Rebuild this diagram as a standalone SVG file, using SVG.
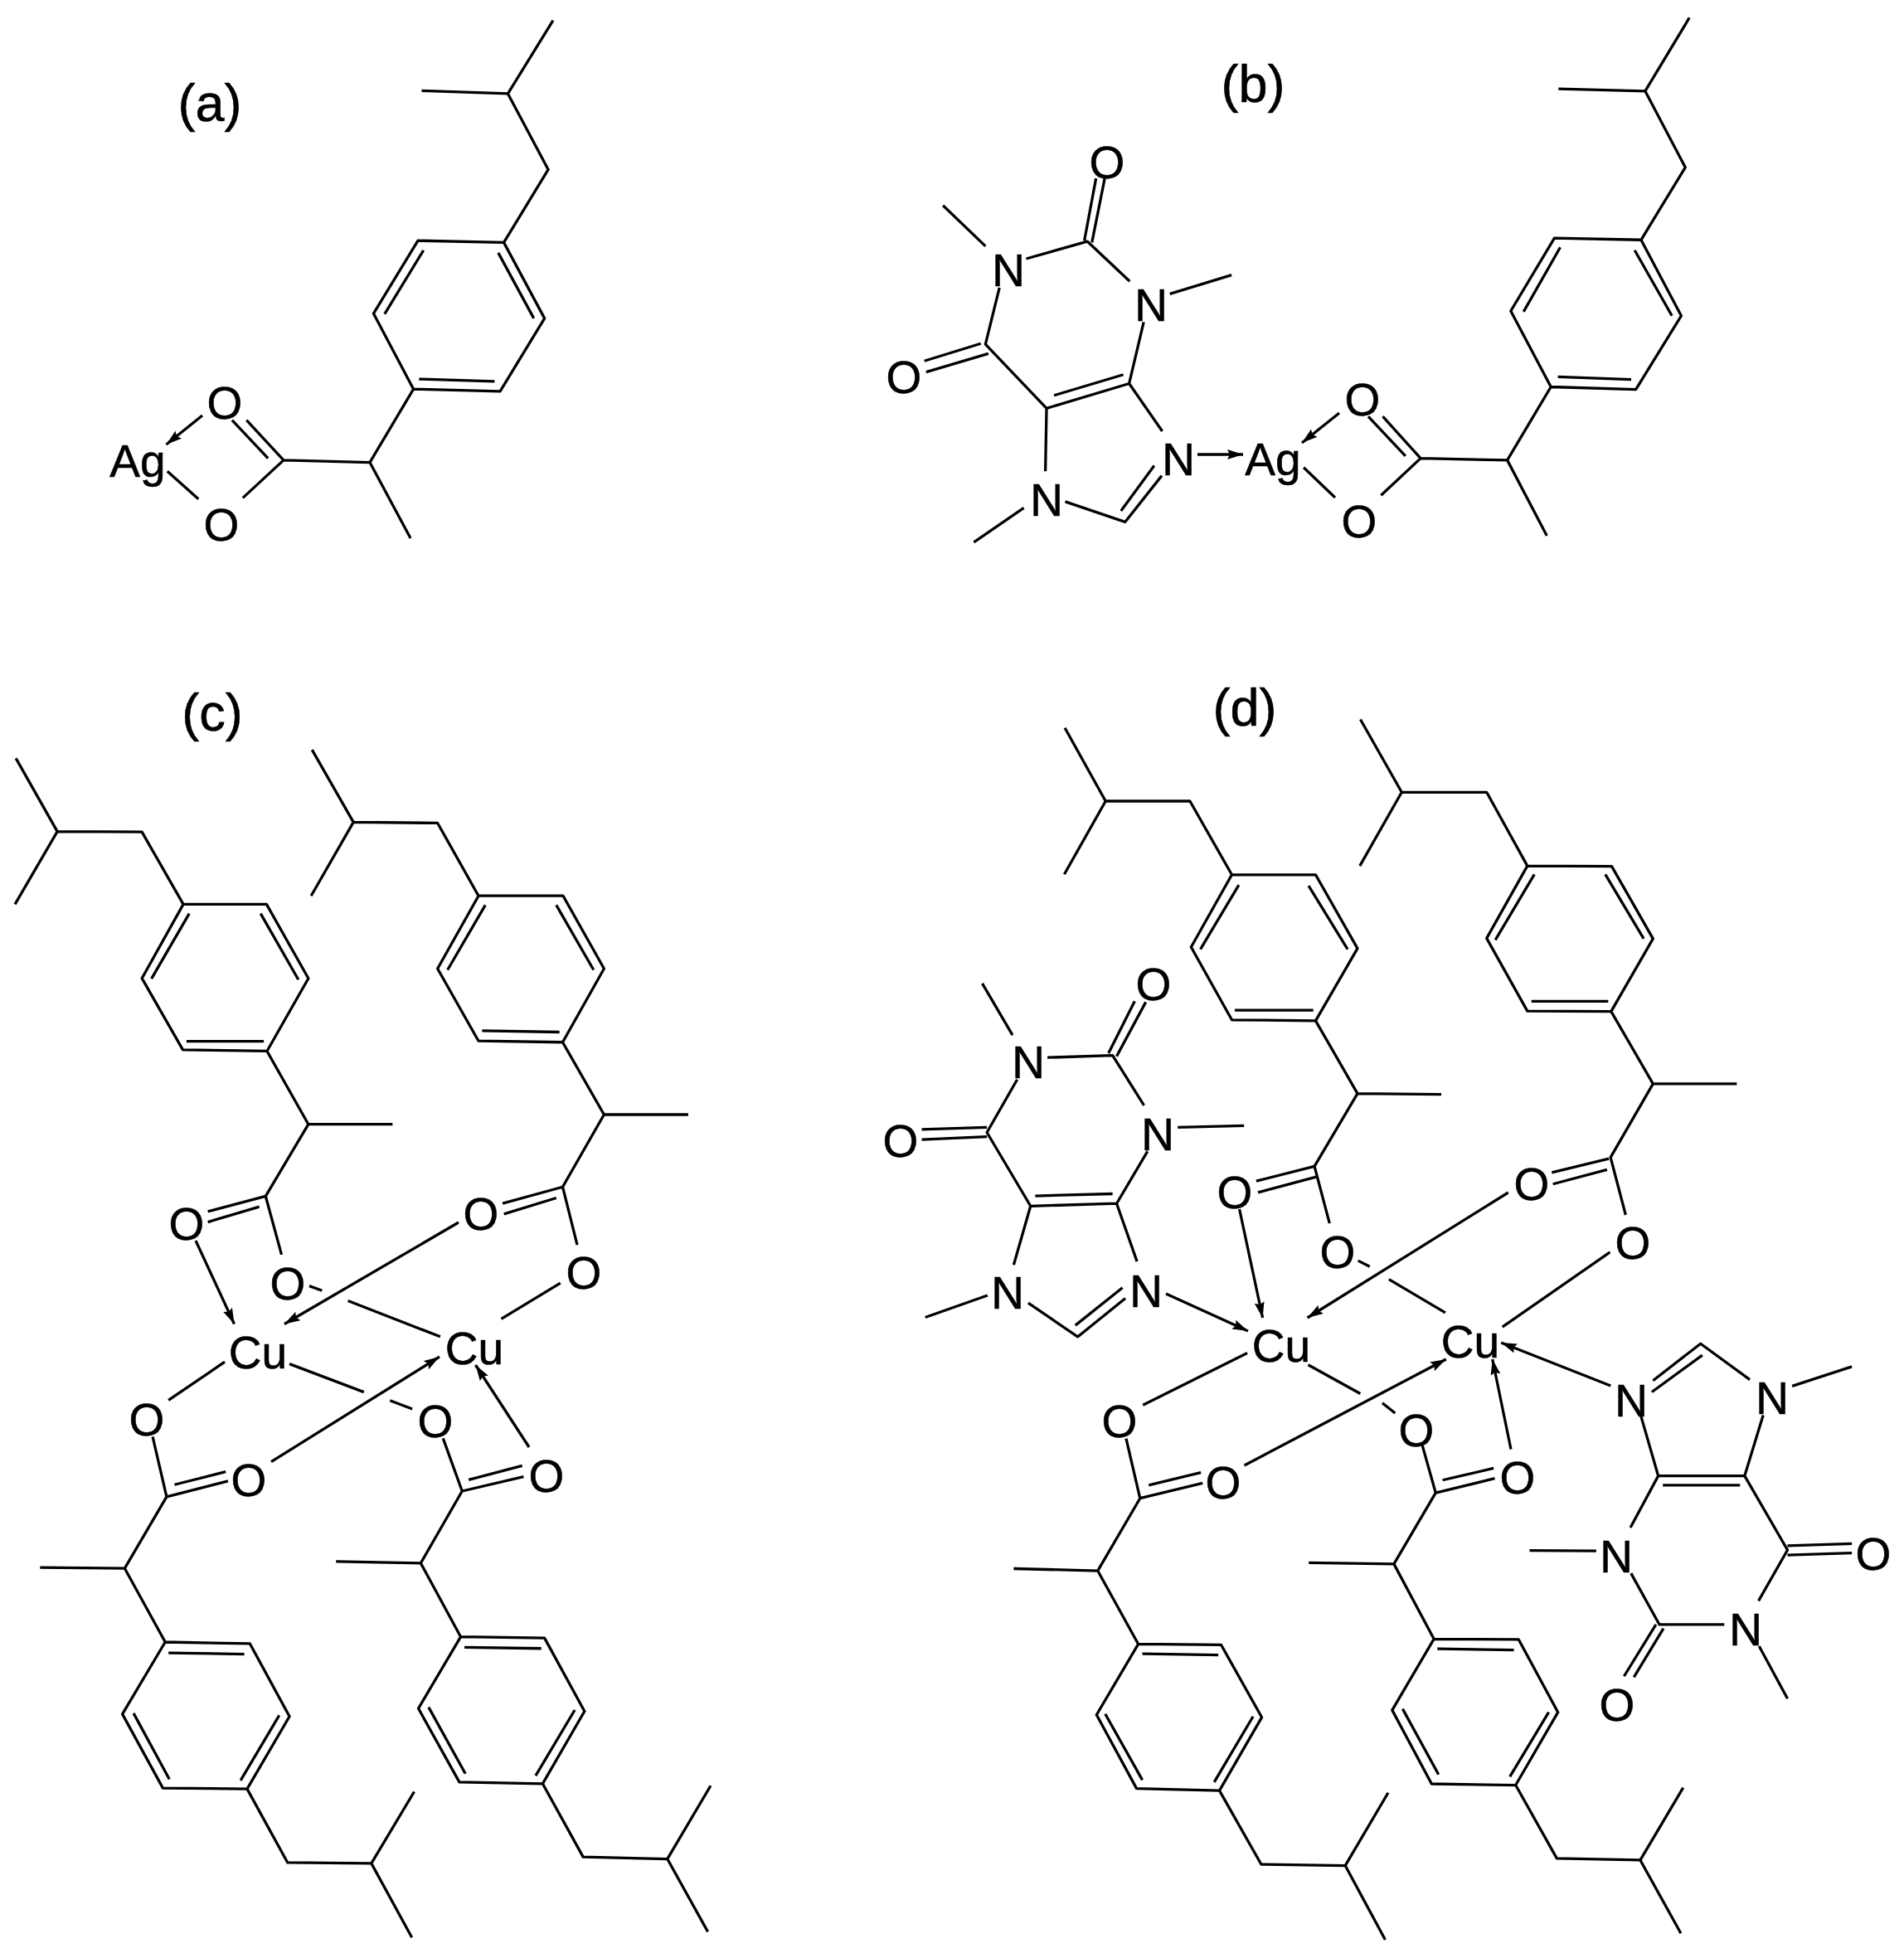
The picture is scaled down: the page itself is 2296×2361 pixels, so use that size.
<svg xmlns="http://www.w3.org/2000/svg" width="2296" height="2361" viewBox="0 0 2296 2361">
<style>
.b{fill:none;stroke:#000;stroke-width:3.3;stroke-linejoin:round;vector-effect:non-scaling-stroke}
.c{fill:none;stroke:#000;stroke-width:3.3;marker-end:url(#ah)}
text{font-family:"Liberation Sans",Arial,sans-serif;font-size:55px;fill:#000;stroke:#000;stroke-width:.6px;text-anchor:middle}
.p{font-size:63px}
</style>
<defs><marker id="ah" markerUnits="userSpaceOnUse" markerWidth="20" markerHeight="14" refX="19" refY="6" orient="auto"><path d="M0,0L19,6L0,12L3,6Z" fill="#000"/></marker></defs>
<rect width="2296" height="2361" fill="#fff"/>
<g id="panel-a">
<path class="b" transform="translate(100,0) scale(.4464)" d="M915,245L1148,253L1270,55M1148,253L1257,458L1137,655L905,650L785,847L893,1051L1127,1057L1247,860L1137,655M920,676L815,848M1122,683L1218,860M908,1024L1112,1030M893,1051L775,1249L885,1454M775,1249L542,1243L432,1345M542,1243L442,1135M500,1238L403,1135M228,1273L312,1348"/>
<text class="p" x="253" y="146">(a)</text><text x="271" y="505">O</text><text x="267" y="652">O</text><text x="166" y="575">Ag</text>
</g>
<g id="panel-b">
<path class="b" transform="translate(1020,0) scale(.7015,.4464)" d="M1225,240L1374,246L1450,48M1374,246L1443,452L1367,648L1218,643L1143,840L1212,1045L1358,1052L1436,853L1367,648M1228,668L1165,842M1356,676L1420,853M1224,1018L1350,1025M1212,1045L1137,1243L1205,1447M1137,1243L988,1238L920,1338M988,1238L923,1125M962,1232L898,1125M787,1263L841,1344M410,650L430,482M423,655L445,482M310,699L415,652L488,760M167,555L240,665M557,794L663,743M264,777L240,930L345,1103L487,1036L512,870M232,928L135,975M245,955L138,1005M358,1068L477,1012M345,1103L343,1273M487,1036L544,1165M377,1355L480,1410L543,1285M473,1380L530,1258M306,1372L220,1465"/>
<text class="p" x="1511" y="123">(b)</text><text x="1335" y="215">O</text><text x="1216" y="345">N</text><text x="1388" y="387">N</text><text x="1090" y="474">O</text><text x="1421" y="573">N</text><text x="1262" y="622">N</text><text x="1535" y="573">Ag</text><text x="1643" y="501">O</text><text x="1639" y="648">O</text>
</g>
<g id="panel-c">
<path class="b" transform="translate(0,820) scale(.5485,.5102)" d="M35,185L126,358L33,530M126,358L312,359L403,530L586,530L678,705L587,877L402,874L312,705L403,530M416,552L333,706M573,552L656,708M410,854L580,854M587,877L678,1050L863,1050M678,1050L584,1220L619,1358M584,1220L457,1256M570,1245L457,1281M686,165L777,336L684,510M777,336L962,338L1052,510L1238,510L1328,682L1237,856L1052,853L962,682L1052,510M1067,532L984,685M1223,532L1305,685M1060,829L1230,832M1237,856L1328,1027L1513,1027M1328,1027L1237,1198L1269,1335M1237,1198L1105,1237M1223,1224L1108,1262M680,1432L708,1443M765,1467L968,1552M1232,1425L1102,1510"/>
<path class="b" transform="translate(0,1600) scale(.5612,.4853)" d="M483,87L362,182M622,92L782,162M838,183L886,204M328,273L358,422M358,422L490,383M375,392L485,360M952,277L993,408M993,408L1125,372M1007,380L1122,345M358,422L268,600L86,598M268,600L355,783L537,787L622,968L531,1148L350,1146L263,962L355,783M362,810L525,813M600,965L517,1127M287,960L364,1124M531,1148L618,1331L798,1333L890,1155M798,1333L885,1517M993,408L904,587L722,583M904,587L990,770L1170,773L1256,955L1166,1135L987,1131L899,948L990,770M998,796L1163,799M1235,952L1151,1115M921,945L1000,1110M1166,1135L1253,1317L1434,1322L1527,1140M1434,1322L1521,1503"/>
<text class="p" x="256" y="881">(c)</text><text x="225" y="1495">O</text><text x="347" y="1567">O</text><text x="580" y="1483">O</text><text x="704" y="1554">O</text><text x="311" y="1650">Cu</text><text x="572" y="1645">Cu</text><text x="177" y="1731">O</text><text x="300" y="1804">O</text><text x="525" y="1733">O</text><text x="659" y="1799">O</text>
</g>
<g id="panel-d">
<path class="b" transform="translate(1040,840) scale(.7015,.5102)" d="M348,74L418,247L347,420M418,247L563,247L635,421L779,421L851,595L779,766L635,764L565,592L635,421M647,445L581,597M767,447L834,597M640,741L775,741M779,766L851,938L995,940M851,938L777,1110L803,1245M777,1110L677,1145M780,1135L680,1172M856,54L927,226L855,400M927,226L1073,226L1143,400L1288,401L1359,572L1287,744L1143,743L1073,571L1143,400M1155,420L1088,575M1277,420L1343,572M1150,720L1282,720M1287,744L1359,915L1503,915M1359,915L1286,1089L1312,1225M1283,1092L1185,1125M1280,1118L1187,1152M1285,1313L1100,1490M852,1333L872,1347M905,1377L1002,1456M206,678L258,800M318,853L430,848L484,966M423,843L468,720M437,850L487,722M266,905L214,1030L289,1204L437,1198L490,1075M214,1018L102,1023M214,1040L102,1047M297,1180L430,1175M542,1018L656,1014M289,1204L260,1343M437,1198L472,1335M285,1433L370,1513L452,1422M366,1486L447,1397M215,1415L108,1467"/>
<path class="b" transform="translate(1200,1560) scale(.699,.5108)" d="M435,140L255,263M540,168L630,236M668,258L690,282M226,342L250,483M250,483L358,447M265,452L355,422M737,358L760,470M760,470L862,436M772,440L860,412M250,483L177,654L32,649M177,654L247,827L390,829L460,1000L387,1173L244,1168L175,994L247,827M254,850L385,853M445,998L378,1153M190,992L254,1148M387,1173L459,1347L604,1350L678,1178M604,1350L673,1525M760,470L688,638L541,635M688,638L757,815L903,816L971,988L898,1160L753,1157L685,983L757,815M763,838L895,841M955,988L888,1140M703,980L765,1135M898,1160L969,1333L1113,1337L1187,1166M1113,1337L1183,1510M1114,288L1144,430L1293,430L1325,287M1135,205L1217,118L1302,203M1133,232L1220,145M1375,218L1478,172M1144,430L1096,552M1293,430L1367,605L1317,725M1152,452L1285,452M1367,595L1478,590M1367,617L1478,612M1258,781L1146,781L1097,660M1140,781L1085,903M1153,790L1102,905M922,606L1037,607M1318,832L1367,956"/>
<text class="p" x="1501" y="875">(d)</text><text x="1391" y="1206">O</text><text x="1240" y="1300">N</text><text x="1086" y="1395">O</text><text x="1396" y="1387">N</text><text x="1215" y="1578">N</text><text x="1382" y="1576">N</text><text x="1489" y="1457">O</text><text x="1613" y="1529">O</text><text x="1847" y="1447">O</text><text x="1969" y="1518">O</text><text x="1545" y="1642">Cu</text><text x="1773" y="1637">Cu</text><text x="1350" y="1733">O</text><text x="1475" y="1807">O</text><text x="1708" y="1744">O</text><text x="1830" y="1801">O</text><text x="1967" y="1708">N</text><text x="2137" y="1705">N</text><text x="1949" y="1896">N</text><text x="2259" y="1893">O</text><text x="2105" y="1984">N</text><text x="1950" y="2075">O</text>
</g>
<g id="connectors">
<path class="c" d="M244,501L200.5,536"/>
<path class="c" d="M1615,498L1570,534"/>
<path class="c" d="M1444,548L1499,548"/>
<path class="c" d="M236,1496L282.5,1596.5"/>
<path class="c" d="M553,1474L343,1596.5"/>
<path class="c" d="M327,1762.6L530,1636"/>
<path class="c" d="M638,1745L573.5,1646"/>
<path class="c" d="M1406,1560L1505,1605"/>
<path class="c" d="M1494.6,1458L1522.6,1589"/>
<path class="c" d="M1818.7,1438L1576.6,1589"/>
<path class="c" d="M1500.6,1767L1743.8,1639"/>
<path class="c" d="M1822,1747.5L1799.7,1639"/>
<path class="c" d="M1942.3,1671L1810.2,1619"/>
</g>
</svg>
